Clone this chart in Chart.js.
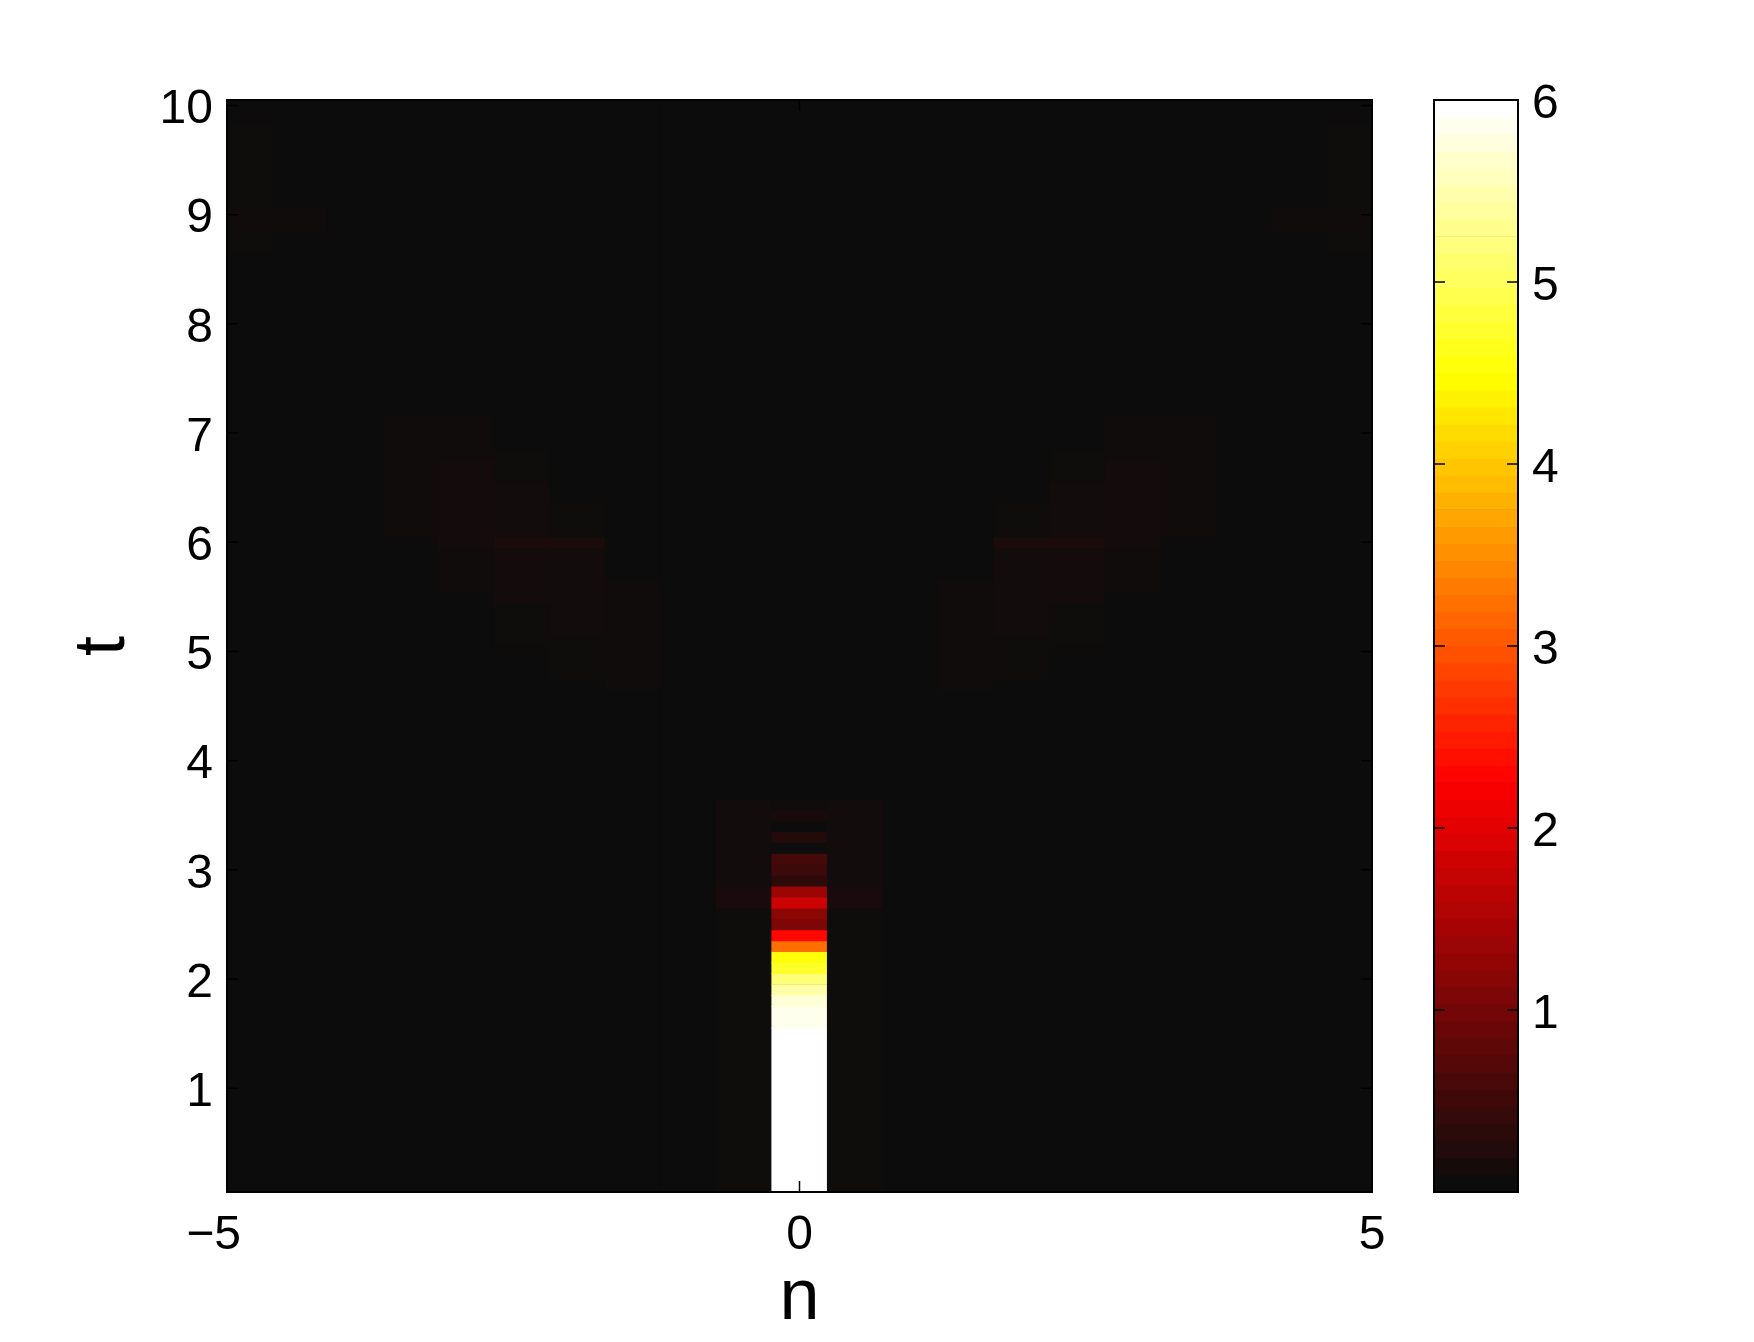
<!DOCTYPE html>
<html>
<head>
<meta charset="utf-8">
<script src="https://cdn.jsdelivr.net/npm/chart.js@4.4.1/dist/chart.umd.min.js"></script>
<style>
  body { margin: 0; background: #fff; }
  #wrap { position: relative; width: 1754px; height: 1342px; }
  canvas { position: absolute; top: 0; }
  #heat { left: 0; }
  #cbar { left: 1380px; }
</style>
</head>
<body>
<div id="wrap">
  <canvas id="heat" width="1754" height="1342"></canvas>
  <canvas id="cbar" width="374" height="1342"></canvas>
</div>
<script>
// lattice sites shown, cell centre n = site * siteSpacing
var sites = [-10, -9, -8, -7, -6, -5, -4, -3, -2, -1, 0, 1, 2, 3, 4, 5, 6, 7, 8, 9, 10];
var siteSpacing = 0.485;
// time rows t = 0.1 ... 10.0
var firstRow = 0.1, lastRow = 10.0, dt = 0.1;
var background = 0;
var colorLimits = [0, 6];
var colormapSize = 64;

var xTicks = [-5, 0, 5];
var yTicks = [1, 2, 3, 4, 5, 6, 7, 8, 9, 10];
var colorbarTicks = [1, 2, 3, 4, 5, 6];

// [site, first t, last t, value]  (everything not listed is background)
var centreSite = [
    [0, 0.1, 1.5, 6.0], [0, 1.6, 1.7, 5.9], [0, 1.8, 1.8, 5.77], [0, 1.9, 1.9, 5.5],
    [0, 2.0, 2.0, 5.2], [0, 2.1, 2.1, 4.74], [0, 2.2, 2.2, 4.56], [0, 2.3, 2.3, 3.22],
    [0, 2.4, 2.4, 2.3], [0, 2.5, 2.5, 1.05], [0, 2.6, 2.6, 1.19], [0, 2.7, 2.7, 1.79],
    [0, 2.8, 2.8, 1.32], [0, 2.9, 2.9, 0.31], [0, 3.0, 3.0, 0.44], [0, 3.1, 3.1, 0.54],
    [0, 3.2, 3.2, 0.02], [0, 3.3, 3.3, 0.21], [0, 3.4, 3.4, 0.01], [0, 3.5, 3.5, 0.12],
    [0, 3.6, 3.6, 0.04]
];
var neighbourSites = [
    [-1, 0.1, 2.6, 0.03], [-1, 2.7, 2.8, 0.12], [-1, 2.9, 3.6, 0.055],
    [1, 0.1, 2.6, 0.03], [1, 2.7, 2.8, 0.12], [1, 2.9, 3.6, 0.055]
];
var leftWave = [
    [-7, 6.1, 7.1, 0.035],
    [-6, 5.6, 5.9, 0.035], [-6, 6.0, 6.7, 0.07], [-6, 6.8, 7.1, 0.035],
    [-5, 5.1, 5.4, 0.03], [-5, 5.5, 5.9, 0.07], [-5, 6.0, 6.0, 0.15], [-5, 6.1, 6.5, 0.065], [-5, 6.6, 6.8, 0.03],
    [-4, 4.8, 5.1, 0.03], [-4, 5.2, 5.9, 0.065], [-4, 6.0, 6.0, 0.15], [-4, 6.1, 6.3, 0.03],
    [-3, 4.7, 5.6, 0.045]
];
var rightWave = [
    [7, 6.1, 7.1, 0.035],
    [6, 5.6, 5.9, 0.035], [6, 6.0, 6.7, 0.07], [6, 6.8, 7.1, 0.035],
    [5, 5.1, 5.4, 0.03], [5, 5.5, 5.9, 0.07], [5, 6.0, 6.0, 0.15], [5, 6.1, 6.5, 0.065], [5, 6.6, 6.8, 0.03],
    [4, 4.8, 5.1, 0.03], [4, 5.2, 5.9, 0.065], [4, 6.0, 6.0, 0.15], [4, 6.1, 6.3, 0.03],
    [3, 4.7, 5.6, 0.045]
];
var cornerSites = [
    [-10, 8.7, 8.8, 0.025], [-10, 8.9, 9.0, 0.045], [-10, 9.1, 9.8, 0.025], [-9, 8.9, 9.0, 0.045],
    [10, 8.7, 8.8, 0.025], [10, 8.9, 9.0, 0.045], [10, 9.1, 9.8, 0.025], [9, 8.9, 9.0, 0.045]
];

// matlab 'hot', with the dark end shown as neutral near-black
function hot(f) {
    f = Math.min(1, Math.max(0, f));
    var r = Math.min(1, f / 0.375);
    var g = Math.min(1, Math.max(0, (f - 0.375) / 0.375));
    var b = Math.max(0, (f - 0.75) / 0.25);
    var base = 12 * (1 - r);
    return 'rgb(' + Math.round(r * 255 + base) + ',' + Math.round(g * 255 + base) + ',' + Math.round(b * 255 + base) + ')';
}
function heatColor(v) {
    return hot((v - colorLimits[0]) / (colorLimits[1] - colorLimits[0]));
}

// one floating bar per run of rows in each site column
var blocks = centreSite.concat(neighbourSites, leftWave, rightWave, cornerSites);
var cells = [];
sites.forEach(function (k) {
    var own = blocks.filter(function (b) { return b[0] === k; })
                    .sort(function (a, b) { return a[1] - b[1]; });
    var t = firstRow;
    own.forEach(function (b) {
        if (b[1] > t + 1e-6) {
            cells.push({x: k * siteSpacing, y: [t - dt / 2, b[1] - dt / 2], v: background});
        }
        cells.push({x: k * siteSpacing, y: [b[1] - dt / 2, b[2] + dt / 2], v: b[3]});
        t = b[2] + dt;
    });
    if (t < lastRow + 1e-6) {
        cells.push({x: k * siteSpacing, y: [t - dt / 2, lastRow + dt / 2], v: background});
    }
});

var levels = [];
for (var i = 0; i < colormapSize; i++) {
    var step = (colorLimits[1] - colorLimits[0]) / colormapSize;
    levels.push({x: 0, y: [colorLimits[0] + i * step, colorLimits[0] + (i + 1) * step], f: i / (colormapSize - 1)});
}

Chart.defaults.color = '#000';
Chart.defaults.font.family = "'Liberation Sans', Arial, Helvetica, sans-serif";

// box round the axes, inward tick marks on both sides
var frame = {
    id: 'frame',
    beforeDatasetsDraw: function (chart) {
        var a = chart.chartArea, ctx = chart.ctx;
        ctx.save();
        ctx.fillStyle = heatColor(background);
        ctx.fillRect(a.left, a.top, a.right - a.left, a.bottom - a.top);
        ctx.restore();
    },
    afterDatasetsDraw: function (chart) {
        var a = chart.chartArea, ctx = chart.ctx, len = 11;
        ctx.save();
        ctx.strokeStyle = '#000';
        ctx.lineWidth = 1.5;
        Object.keys(chart.scales).forEach(function (id) {
            var s = chart.scales[id];
            if (!s.options.display) return;
            s.ticks.forEach(function (tk) {
                var p = s.getPixelForValue(tk.value);
                ctx.beginPath();
                if (s.isHorizontal()) {
                    ctx.moveTo(p, a.bottom); ctx.lineTo(p, a.bottom - len);
                    ctx.moveTo(p, a.top); ctx.lineTo(p, a.top + len);
                } else {
                    ctx.moveTo(a.left, p); ctx.lineTo(a.left + len, p);
                    ctx.moveTo(a.right, p); ctx.lineTo(a.right - len, p);
                }
                ctx.stroke();
            });
        });
        ctx.lineWidth = 2;
        ctx.strokeRect(a.left, a.top, a.right - a.left, a.bottom - a.top);
        ctx.restore();
    }
};

var tickFont = {size: 48};
// vertical-axis labels sit a few px below their tick, like the original
var lowFont = {size: 48, lineHeight: '9px'};
function lowLabel(v) { return ['', String(v)]; }

new Chart(document.getElementById('heat'), {
    type: 'bar',
    data: {
        datasets: [{
            data: cells,
            backgroundColor: function (c) { return heatColor(c.raw.v); },
            borderWidth: 0,
            barPercentage: 1,
            categoryPercentage: 1,
            clip: 0
        }]
    },
    options: {
        responsive: false,
        animation: false,
        events: [],
        devicePixelRatio: 1,
        layout: {padding: {left: 0, right: 382, top: 100, bottom: 0}},
        plugins: {legend: {display: false}, tooltip: {enabled: false}},
        scales: {
            x: {
                type: 'linear', min: -5, max: 5, offset: false,
                grid: {display: false, drawTicks: false},
                border: {display: false},
                ticks: {
                    font: tickFont, padding: 15, autoSkip: false, maxRotation: 0,
                    callback: function (v) { return v < 0 ? '\u2212' + Math.abs(v) + '\u2007' : String(v); }
                },
                title: {display: true, text: 'n', font: {size: 72}, padding: {top: 0, bottom: 0}},
                afterBuildTicks: function (s) { s.ticks = xTicks.map(function (v) { return {value: v}; }); },
                afterFit: function (s) { s.height = 150; }
            },
            y: {
                type: 'linear', min: firstRow - dt / 2, max: lastRow + dt / 2,
                grid: {display: false, drawTicks: false},
                border: {display: false},
                ticks: {font: lowFont, padding: 14, autoSkip: false, callback: lowLabel},
                title: {display: true, text: 't', font: {size: 72}, padding: {top: 61, bottom: 0}},
                afterBuildTicks: function (s) { s.ticks = yTicks.map(function (v) { return {value: v}; }); },
                afterFit: function (s) { s.width = 227; }
            }
        }
    },
    plugins: [frame]
});

new Chart(document.getElementById('cbar'), {
    type: 'bar',
    data: {
        datasets: [{
            data: levels,
            backgroundColor: function (c) { return hot(c.raw.f); },
            borderWidth: 0,
            barPercentage: 1,
            categoryPercentage: 1,
            clip: 0
        }]
    },
    options: {
        responsive: false,
        animation: false,
        events: [],
        devicePixelRatio: 1,
        layout: {padding: {left: 54, right: 0, top: 100, bottom: 150}},
        plugins: {legend: {display: false}, tooltip: {enabled: false}},
        scales: {
            x: {
                type: 'linear', min: -0.5, max: 0.5, offset: false, display: false,
                afterBuildTicks: function (s) { s.ticks = [{value: 0}]; }
            },
            y: {
                type: 'linear', position: 'right', min: colorLimits[0], max: colorLimits[1],
                grid: {display: false, drawTicks: false},
                border: {display: false},
                ticks: {font: lowFont, padding: 14, autoSkip: false, callback: lowLabel},
                afterBuildTicks: function (s) { s.ticks = colorbarTicks.map(function (v) { return {value: v}; }); },
                afterFit: function (s) { s.width = 236; }
            }
        }
    },
    plugins: [frame]
});
</script>
</body>
</html>
